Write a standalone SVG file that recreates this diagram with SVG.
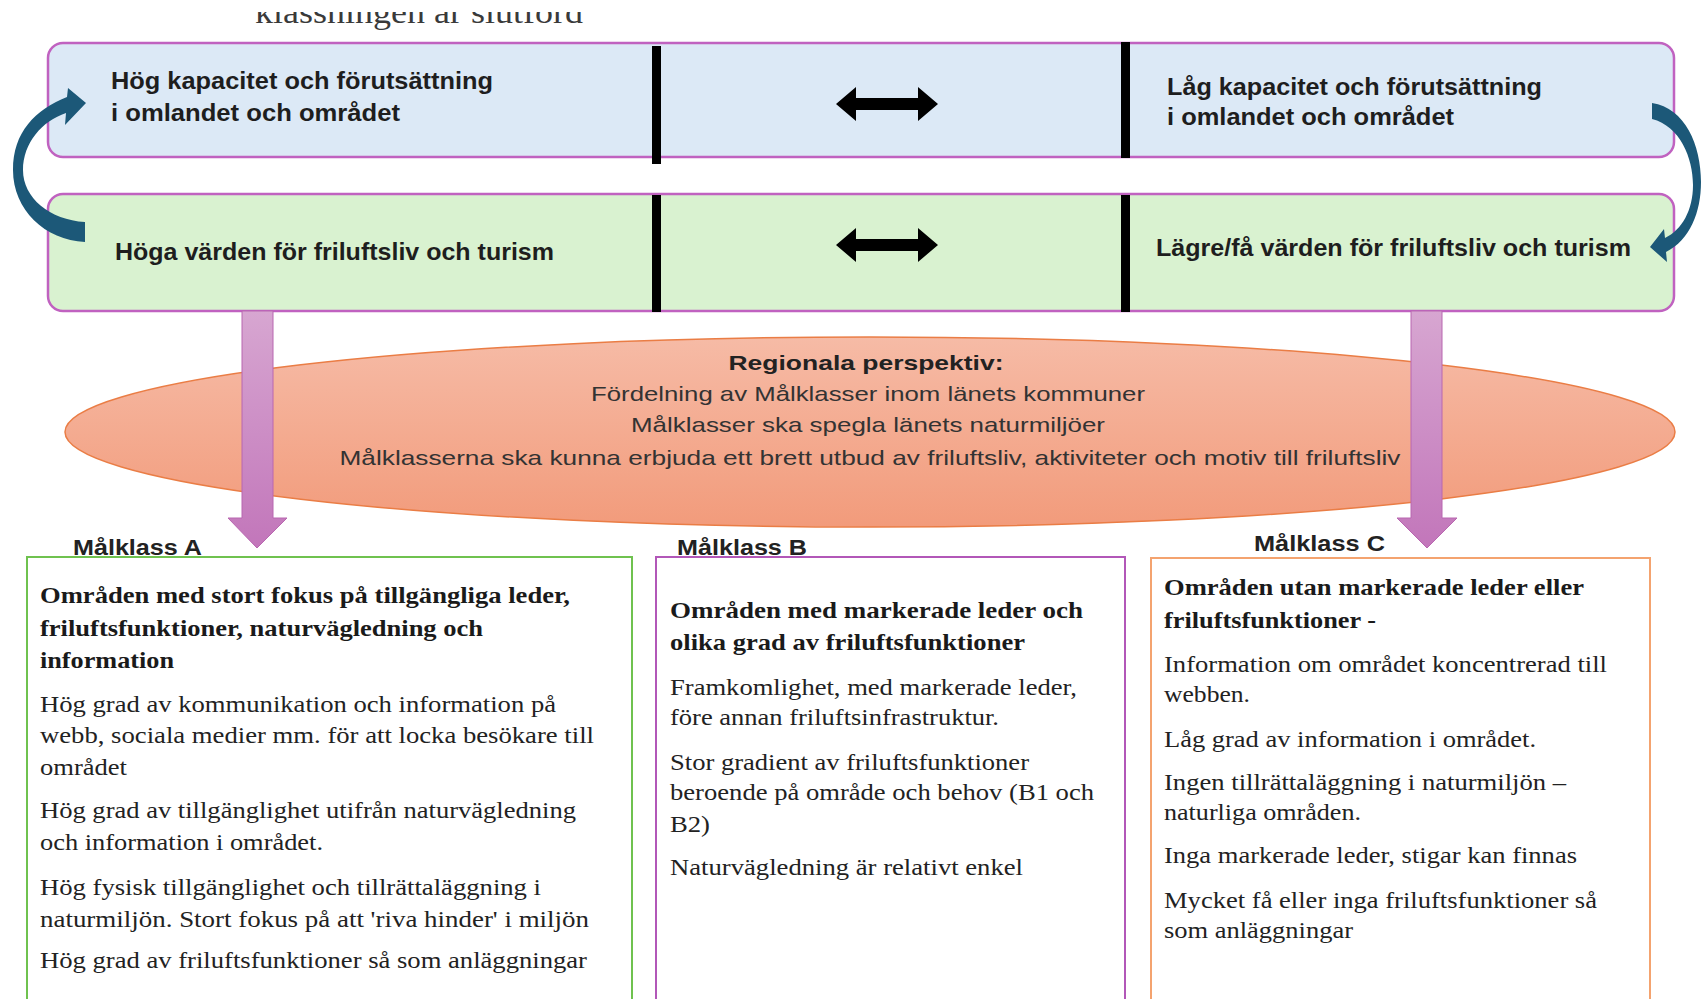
<svg xmlns="http://www.w3.org/2000/svg" width="1702" height="999" viewBox="0 0 1702 999">
<style>
.cap{font-family:"Liberation Sans Narrow","Liberation Sans",Arial,sans-serif;font-weight:bold;font-size:24px;fill:#1e1e1e}
.ell{font-family:"Liberation Sans Narrow","Liberation Sans",Arial,sans-serif;font-size:21px;fill:#333}
.ellb{font-family:"Liberation Sans Narrow","Liberation Sans",Arial,sans-serif;font-size:21px;font-weight:bold;fill:#222}
.lab{font-family:"Liberation Sans Narrow","Liberation Sans",Arial,sans-serif;font-size:22px;font-weight:bold;fill:#222}
.body{font-family:"Liberation Serif","Times New Roman",serif;font-size:24px;fill:#222}
.head{font-family:"Liberation Serif","Times New Roman",serif;font-size:24px;font-weight:bold;fill:#1a1a1a}
.band{stroke:#c062c0;stroke-width:2.5}
.bar{fill:#000}
.dbl{fill:#000}
.curve{fill:#1c5878}
.down{fill:url(#gDown);stroke:#b866b0;stroke-width:1}
.title{font-family:"Liberation Serif","Times New Roman",serif;font-size:32px;fill:#3a3a3a}
</style>
<defs>
<linearGradient id="gEll" x1="0" y1="0" x2="0" y2="1">
<stop offset="0" stop-color="#f6bba6"/>
<stop offset="1" stop-color="#f29b7b"/>
</linearGradient>
<linearGradient id="gDown" x1="0" y1="0" x2="0" y2="1">
<stop offset="0" stop-color="#d7a6d1"/>
<stop offset="1" stop-color="#c276ba"/>
</linearGradient>
<clipPath id="clipTitle"><rect x="0" y="12" width="1702" height="30"/></clipPath>
</defs>

<g id="title" clip-path="url(#clipTitle)">
<text class="title" x="255" y="23" textLength="328" lengthAdjust="spacingAndGlyphs">klassningen är slutförd</text>
</g>

<g id="band-capacity">
<rect class="band" x="48" y="43" width="1626" height="114" rx="15" fill="#dce9f6"/>
<text class="cap" x="111" y="89" textLength="382" lengthAdjust="spacingAndGlyphs">Hög kapacitet och förutsättning</text>
<text class="cap" x="111" y="121" textLength="289" lengthAdjust="spacingAndGlyphs">i omlandet och området</text>
<text class="cap" x="1167" y="95" textLength="375" lengthAdjust="spacingAndGlyphs">Låg kapacitet och förutsättning</text>
<text class="cap" x="1167" y="125" textLength="287" lengthAdjust="spacingAndGlyphs">i omlandet och området</text>
</g>

<g id="band-values">
<rect class="band" x="48" y="194" width="1626" height="117" rx="15" fill="#d9f2d0"/>
<text class="cap" x="115" y="260" textLength="439" lengthAdjust="spacingAndGlyphs">Höga värden för friluftsliv och turism</text>
<text class="cap" x="1156" y="256" textLength="475" lengthAdjust="spacingAndGlyphs">Lägre/få värden för friluftsliv och turism</text>
</g>

<g id="ellipse-regional">
<ellipse cx="870" cy="432" rx="805" ry="95" fill="url(#gEll)" stroke="#ea7d45" stroke-width="1.5"/>
<text class="ellb" x="866" y="370" text-anchor="middle" textLength="275" lengthAdjust="spacingAndGlyphs">Regionala perspektiv:</text>
<text class="ell" x="868" y="401" text-anchor="middle" textLength="554" lengthAdjust="spacingAndGlyphs">Fördelning av Målklasser inom länets kommuner</text>
<text class="ell" x="868" y="432" text-anchor="middle" textLength="474" lengthAdjust="spacingAndGlyphs">Målklasser ska spegla länets naturmiljöer</text>
<text class="ell" x="870" y="465" text-anchor="middle" textLength="1061" lengthAdjust="spacingAndGlyphs">Målklasserna ska kunna erbjuda ett brett utbud av friluftsliv, aktiviteter och motiv till friluftsliv</text>
</g>

<g id="connectors">
<rect class="bar" x="652" y="46" width="9" height="118"/>
<rect class="bar" x="1121" y="42" width="9" height="116"/>
<rect class="bar" x="652" y="195" width="9" height="117"/>
<rect class="bar" x="1121" y="195" width="9" height="117"/>
<polygon class="dbl" points="836,104 856,87 856,98 918,98 918,87 938,104 918,121 918,110 856,110 856,121"/>
<polygon class="dbl" points="836,245 856,228 856,239 918,239 918,228 938,245 918,262 918,251 856,251 856,262"/>
<path class="curve" d="M85,242 C45,240 13,210 13,170 C13,132 35,110 67,97 L68,88 L86,103 L65,125 L66,113 C42,121 23,143 23,170 C23,198 50,220 85,222 Z"/>
<path class="curve" d="M1652,103 C1685,108 1701,145 1701,182 C1701,212 1690,240 1666,252 L1667,262 L1650,247 L1664,229 L1665,238 C1682,230 1693,210 1693,185 C1693,158 1680,126 1652,119 Z"/>
<path class="down" d="M242,311 L273,311 L273,518 L287,518 L257,548 L228,518 L242,518 Z"/>
<path class="down" d="M1411,311 L1442,311 L1442,518 L1457,518 L1427,548 L1397,518 L1411,518 Z"/>
</g>

<g id="class-a">
<text class="lab" x="73" y="555" textLength="129" lengthAdjust="spacingAndGlyphs">Målklass A</text>
<rect x="27" y="557" width="605" height="470" fill="#fff" stroke="#6fc24f" stroke-width="2"/>
<text class="head" x="40" y="603" textLength="530" lengthAdjust="spacingAndGlyphs">Områden med stort fokus på tillgängliga leder,</text>
<text class="head" x="40" y="636" textLength="443" lengthAdjust="spacingAndGlyphs">friluftsfunktioner, naturvägledning och</text>
<text class="head" x="40" y="668" textLength="134" lengthAdjust="spacingAndGlyphs">information</text>
<text class="body" x="40" y="712" textLength="516" lengthAdjust="spacingAndGlyphs">Hög grad av kommunikation och information på</text>
<text class="body" x="40" y="743" textLength="554" lengthAdjust="spacingAndGlyphs">webb, sociala medier mm. för att locka besökare till</text>
<text class="body" x="40" y="775" textLength="87" lengthAdjust="spacingAndGlyphs">området</text>
<text class="body" x="40" y="818" textLength="536" lengthAdjust="spacingAndGlyphs">Hög grad av tillgänglighet utifrån naturvägledning</text>
<text class="body" x="40" y="850" textLength="283" lengthAdjust="spacingAndGlyphs">och information i området.</text>
<text class="body" x="40" y="895" textLength="501" lengthAdjust="spacingAndGlyphs">Hög fysisk tillgänglighet och tillrättaläggning i</text>
<text class="body" x="40" y="927" textLength="549" lengthAdjust="spacingAndGlyphs">naturmiljön. Stort fokus på att 'riva hinder' i miljön</text>
<text class="body" x="40" y="968" textLength="547" lengthAdjust="spacingAndGlyphs">Hög grad av friluftsfunktioner så som anläggningar</text>
</g>

<g id="class-b">
<text class="lab" x="677" y="555" textLength="130" lengthAdjust="spacingAndGlyphs">Målklass B</text>
<rect x="656" y="557" width="469" height="470" fill="#fff" stroke="#b257b8" stroke-width="2"/>
<text class="head" x="670" y="618" textLength="413" lengthAdjust="spacingAndGlyphs">Områden med markerade leder och</text>
<text class="head" x="670" y="650" textLength="355" lengthAdjust="spacingAndGlyphs">olika grad av friluftsfunktioner</text>
<text class="body" x="670" y="695" textLength="407" lengthAdjust="spacingAndGlyphs">Framkomlighet, med markerade leder,</text>
<text class="body" x="670" y="725" textLength="329" lengthAdjust="spacingAndGlyphs">före annan friluftsinfrastruktur.</text>
<text class="body" x="670" y="770" textLength="359" lengthAdjust="spacingAndGlyphs">Stor gradient av friluftsfunktioner</text>
<text class="body" x="670" y="800" textLength="424" lengthAdjust="spacingAndGlyphs">beroende på område och behov (B1 och</text>
<text class="body" x="670" y="832" textLength="40" lengthAdjust="spacingAndGlyphs">B2)</text>
<text class="body" x="670" y="875" textLength="353" lengthAdjust="spacingAndGlyphs">Naturvägledning är relativt enkel</text>
</g>

<g id="class-c">
<text class="lab" x="1254" y="551" textLength="131" lengthAdjust="spacingAndGlyphs">Målklass C</text>
<rect x="1151" y="558" width="499" height="470" fill="#fff" stroke="#f4a36f" stroke-width="2"/>
<text class="head" x="1164" y="595" textLength="420" lengthAdjust="spacingAndGlyphs">Områden utan markerade leder eller</text>
<text class="head" x="1164" y="628" textLength="212" lengthAdjust="spacingAndGlyphs">friluftsfunktioner -</text>
<text class="body" x="1164" y="672" textLength="443" lengthAdjust="spacingAndGlyphs">Information om området koncentrerad till</text>
<text class="body" x="1164" y="702" textLength="86" lengthAdjust="spacingAndGlyphs">webben.</text>
<text class="body" x="1164" y="747" textLength="372" lengthAdjust="spacingAndGlyphs">Låg grad av information i området.</text>
<text class="body" x="1164" y="790" textLength="402" lengthAdjust="spacingAndGlyphs">Ingen tillrättaläggning i naturmiljön –</text>
<text class="body" x="1164" y="820" textLength="197" lengthAdjust="spacingAndGlyphs">naturliga områden.</text>
<text class="body" x="1164" y="863" textLength="413" lengthAdjust="spacingAndGlyphs">Inga markerade leder, stigar kan finnas</text>
<text class="body" x="1164" y="908" textLength="433" lengthAdjust="spacingAndGlyphs">Mycket få eller inga friluftsfunktioner så</text>
<text class="body" x="1164" y="938" textLength="189" lengthAdjust="spacingAndGlyphs">som anläggningar</text>
</g>
</svg>
